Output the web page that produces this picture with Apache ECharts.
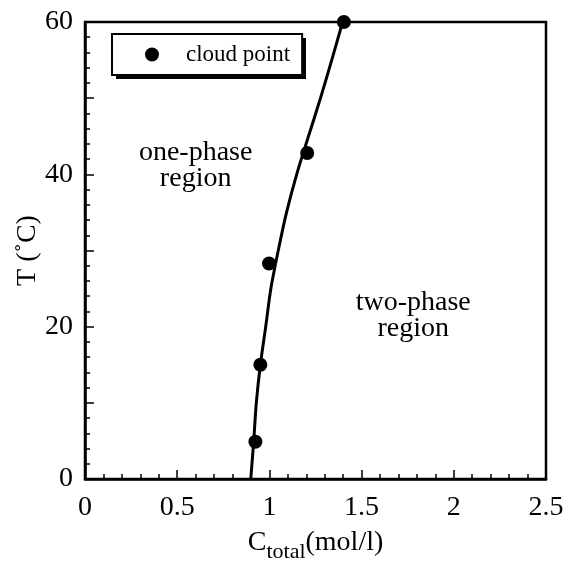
<!DOCTYPE html>
<html><head><meta charset="utf-8">
<script src="https://cdn.jsdelivr.net/npm/echarts@6/dist/echarts.min.js"></script>
<style>html,body{margin:0;padding:0;background:#fff}#c{width:568px;height:562px}</style>
</head><body><div id="c"></div>
<script>
// cloud point data (C_total mol/l, T °C)
const cloudC = [0.924, 0.951, 0.998, 1.205, 1.404];
const cloudT = [4.9, 15.0, 28.3, 42.8, 60.0];
// fitted curve
const curveC = [0.899, 0.915, 0.929, 0.951, 0.980, 1.008, 1.048, 1.093, 1.148, 1.212, 1.277, 1.338, 1.397];
const curveT = [0, 5, 10, 15, 20, 25, 30, 35, 40, 45, 50, 55, 60];
// region annotations
const annotText = ['one-phase\nregion', 'two-phase\nregion'];
const annotC = [0.60, 1.78];
const annotT = [41.1, 21.5];
const xTicks = [0, 0.5, 1, 1.5, 2, 2.5];
const yTicks = [0, 20, 40, 60];

const font = '"Liberation Serif", "DejaVu Serif", serif';
const chart = echarts.init(document.getElementById('c'));
chart.setOption({
  animation: false,
  backgroundColor: '#fff',
  textStyle: {fontFamily: font, color: '#000'},
  grid: {left: 85, right: 22, top: 22, bottom: 83, show: true, borderColor: '#000', borderWidth: 2.5,
    containLabel: false, outerBoundsMode: 'none'},
  graphic: [{
    type: 'rect', z: 3, left: 116, top: 38,
    shape: {width: 190, height: 41},
    style: {fill: '#000'}
  }],
  legend: {
    show: true, data: ['cloud point'], left: 112, top: 34, z: 5,
    orient: 'vertical',
    backgroundColor: '#fff', borderColor: '#000', borderWidth: 2,
    padding: [9, 12, 9, 33],
    itemWidth: 14, itemHeight: 14, icon: 'circle',
    textStyle: {fontFamily: font, fontSize: 23, color: '#000', padding: [0, 0, 0, 22]}
  },
  xAxis: {
    type: 'value', min: 0, max: 2.5, interval: 0.5,
    axisLine: {show: true, onZero: false, lineStyle: {color: '#000', width: 2.5}},
    axisTick: {show: true, inside: true, length: 9, lineStyle: {color: '#000', width: 1.5}},
    minorTick: {show: true, splitNumber: 5, length: 5, lineStyle: {color: '#000', width: 1.5}},
    splitLine: {show: false},
    axisLabel: {fontSize: 28, color: '#000', fontFamily: font, margin: 15, hideOverlap: false,
      formatter: v => (xTicks.indexOf(+v.toFixed(2)) >= 0 ? String(+v.toFixed(2)) : '')},
    name: '{a|C}{s|total}{a|(mol/l)}', nameLocation: 'middle', nameGap: 44, nameMoveOverlap: false,
    nameTextStyle: {rich: {
      a: {fontSize: 28, fontFamily: font, color: '#000'},
      s: {fontSize: 22, fontFamily: font, color: '#000', verticalAlign: 'bottom', padding: [18, 0, 0, 0]}
    }}
  },
  yAxis: {
    type: 'value', min: 0, max: 60, interval: 10,
    axisLine: {show: true, onZero: false, lineStyle: {color: '#000', width: 2.5}},
    axisTick: {show: true, inside: true, length: 9, lineStyle: {color: '#000', width: 1.5}},
    minorTick: {show: true, splitNumber: 5, length: 5, lineStyle: {color: '#000', width: 1.5}},
    splitLine: {show: false},
    axisLabel: {fontSize: 28, color: '#000', fontFamily: font, margin: 12,
      formatter: v => (yTicks.indexOf(v) >= 0 ? String(v) : '')},
    name: 'T (˚C)', nameLocation: 'middle', nameGap: 43, nameRotate: 90, nameMoveOverlap: false,
    nameTextStyle: {fontSize: 28, fontFamily: font, color: '#000'}
  },
  series: [
    {
      name: 'curve', type: 'line', smooth: 0.3, showSymbol: false, symbol: 'none',
      data: curveC.map((c, i) => [c, curveT[i]]),
      lineStyle: {color: '#000', width: 3}, z: 2, silent: true
    },
    {
      name: 'cloud point', type: 'scatter', symbol: 'circle', symbolSize: 14,
      data: cloudC.map((c, i) => [c, cloudT[i]]),
      itemStyle: {color: '#000', opacity: 1}, z: 3
    },
    {
      name: 'annot', type: 'scatter', symbolSize: 0, silent: true,
      itemStyle: {opacity: 1, color: '#000'},
      data: annotC.map((c, i) => ({value: [c, annotT[i]], label: {formatter: annotText[i]}})),
      label: {show: true, position: 'inside', fontSize: 28, lineHeight: 26, color: '#000', fontFamily: font, align: 'center'}
    }
  ]
});
</script></body></html>
